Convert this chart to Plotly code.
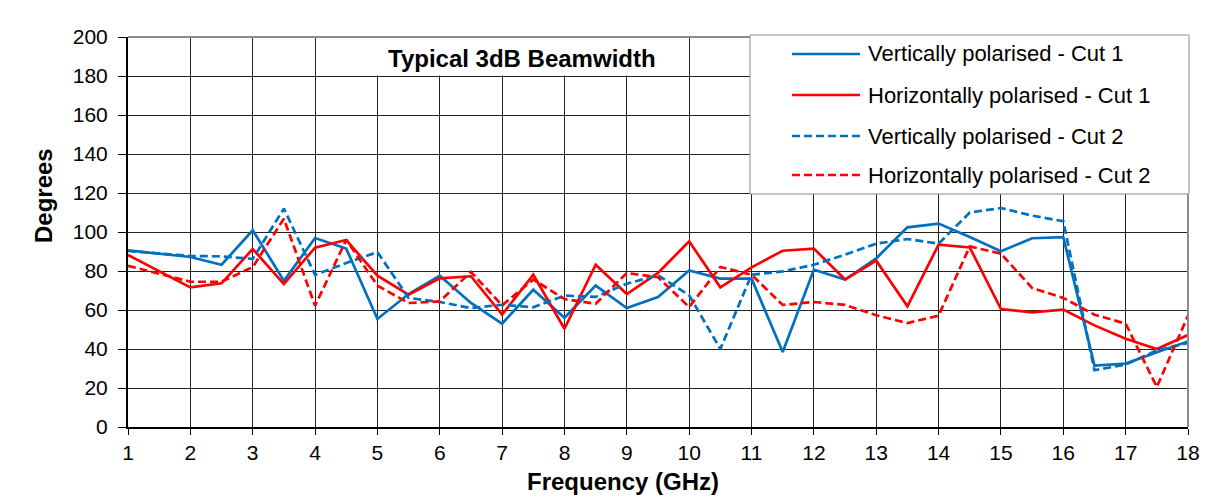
import plotly.graph_objects as go

freq = [1, 2, 2.5, 3, 3.5, 4, 4.5, 5, 5.5, 6, 6.5, 7, 7.5, 8, 8.5, 9, 9.5,
        10, 10.5, 11, 11.5, 12, 12.5, 13, 13.5, 14, 14.5, 15, 15.5, 16, 16.5, 17, 17.5, 18]

v_cut1 = [90.6, 87.2, 83.2, 100.9, 75.0, 96.9, 91.5, 55.4, 68.2, 77.6, 63.6, 53.0, 70.4, 56.0, 72.5, 61.0, 66.7,
          80.3, 76.1, 76.1, 38.5, 80.7, 75.6, 86.5, 102.4, 104.3, 97.4, 90.1, 96.8, 97.4, 31.5, 32.5, 38.3, 43.9]
h_cut1 = [88.2, 71.6, 73.7, 91.3, 73.3, 92.0, 95.9, 77.6, 67.9, 76.2, 77.3, 57.6, 78.1, 50.4, 83.2, 68.2, 79.0,
          95.2, 71.6, 81.9, 90.4, 91.5, 75.6, 85.3, 61.9, 93.5, 92.1, 60.5, 58.8, 60.2, 52.1, 45.3, 40.0, 47.2]
v_cut2 = [90.3, 87.7, 87.5, 86.2, 112.0, 78.0, 84.1, 89.7, 66.2, 64.1, 61.0, 62.7, 61.4, 67.4, 66.7, 73.5, 77.8,
          67.5, 40.0, 78.1, 79.8, 83.2, 88.4, 94.0, 96.4, 94.0, 110.0, 112.3, 108.4, 105.5, 29.1, 32.0, 39.3, 43.1]
h_cut2 = [82.7, 74.5, 74.5, 82.0, 106.8, 62.2, 96.0, 72.5, 63.6, 64.4, 79.5, 62.4, 75.6, 65.6, 63.2, 79.0, 76.8,
          61.5, 82.1, 78.1, 62.6, 64.1, 62.6, 57.3, 53.3, 57.1, 92.6, 88.9, 71.3, 66.2, 57.6, 53.0, 20.5, 57.1]

series_names = ["Vertically polarised - Cut 1", "Horizontally polarised - Cut 1",
                "Vertically polarised - Cut 2", "Horizontally polarised - Cut 2"]
series_values = [v_cut1, h_cut1, v_cut2, h_cut2]
series_colors = ["#0070C0", "#FF0000", "#0070C0", "#FF0000"]
series_dash = ["solid", "solid", "8px,4px", "8px,4px"]

x_ticks = list(range(1, 19))
y_ticks = list(range(0, 201, 20))

FONT = "Arial, 'Liberation Sans', sans-serif"
LW = 2.7

fig = go.Figure()
for name, vals, col, dash in zip(series_names, series_values, series_colors, series_dash):
    fig.add_trace(go.Scatter(x=freq, y=vals, mode="lines", name=name, showlegend=False,
                             line=dict(color=col, width=LW, dash=dash)))

# geometry (page coords; page body has an 8px offset)
OFF = 8
W, H = 1210 - OFF, 497 - OFF
L, R, T, B = 128, 1188, 37, 427
def px(xp):
    return (xp - L) / (R - L)
def py(yp):
    return (B - yp) / (B - T)

shapes = []
annotations = []
# outer frame
shapes.append(dict(type="rect", xref="paper", yref="paper", x0=px(3), x1=px(1205), y0=py(520), y1=py(4),
                   line=dict(color="#dfe8df", width=1), fillcolor="rgba(0,0,0,0)", layer="below"))
# top and right gray borders
shapes.append(dict(type="line", xref="paper", yref="paper", x0=0, x1=1, y0=1, y1=1,
                   line=dict(color="#8c8c8c", width=2), layer="above"))
shapes.append(dict(type="line", xref="paper", yref="paper", x0=1, x1=1, y0=0, y1=1,
                   line=dict(color="#8c8c8c", width=2), layer="above"))
# title box
shapes.append(dict(type="rect", xref="paper", yref="paper", x0=px(377), x1=px(665), y0=py(75.5), y1=py(38),
                   line=dict(width=0), fillcolor="white", layer="above"))
annotations.append(dict(xref="paper", yref="paper", x=px(386), y=py(58), xanchor="left", yanchor="middle",
                        text="<b>Typical 3dB Beamwidth</b>", showarrow=False,
                        font=dict(family=FONT, size=24, color="black")))
# axis titles
annotations.append(dict(xref="paper", yref="paper", x=px(623), y=py(481), xanchor="center", yanchor="middle",
                        text="<b>Frequency (GHz)</b>", showarrow=False,
                        font=dict(family=FONT, size=24, color="black")))
annotations.append(dict(xref="paper", yref="paper", x=px(43), y=py(196), xanchor="center", yanchor="middle",
                        text="<b>Degrees</b>", showarrow=False, textangle=-90,
                        font=dict(family=FONT, size=24, color="black")))
# legend box
shapes.append(dict(type="rect", xref="paper", yref="paper", x0=px(750), x1=px(1189), y0=py(194), y1=py(35),
                   line=dict(color="#8c8c8c", width=1), fillcolor="white", layer="above"))
leg_y = [54, 95, 136, 175]
for name, col, dash, yy in zip(series_names, series_colors, series_dash, leg_y):
    shapes.append(dict(type="line", xref="paper", yref="paper", x0=px(792), x1=px(860), y0=py(yy), y1=py(yy),
                       line=dict(color=col, width=LW, dash=dash), layer="above"))
    annotations.append(dict(xref="paper", yref="paper", x=px(866), y=py(yy), xanchor="left", yanchor="middle",
                            text=name, showarrow=False, font=dict(family=FONT, size=22, color="black")))

fig.update_layout(
    width=W, height=H,
    margin=dict(l=L - OFF, r=W - (R - OFF), t=T - OFF, b=H - (B - OFF), autoexpand=False),
    paper_bgcolor="white", plot_bgcolor="rgba(0,0,0,0)",
    font=dict(family=FONT, color="black"),
    shapes=shapes, annotations=annotations,
    xaxis=dict(range=[1, 18], tickvals=x_ticks, ticktext=[str(v) for v in x_ticks],
               showgrid=True, gridcolor="#222222", gridwidth=1, zeroline=False,
               showline=True, linecolor="black", linewidth=2,
               ticks="outside", ticklen=6, tickcolor="black", tickwidth=1,
               tickfont=dict(family=FONT, size=21, color="black")),
    yaxis=dict(range=[0, 200], tickvals=y_ticks, ticktext=[str(v) for v in y_ticks],
               showgrid=True, gridcolor="#222222", gridwidth=1, zeroline=False,
               showline=True, linecolor="black", linewidth=2,
               ticks="outside", ticklen=8, tickcolor="black", tickwidth=1, ticklabelstandoff=6,
               tickfont=dict(family=FONT, size=21, color="black")),
)

fig.write_html("out.html")
